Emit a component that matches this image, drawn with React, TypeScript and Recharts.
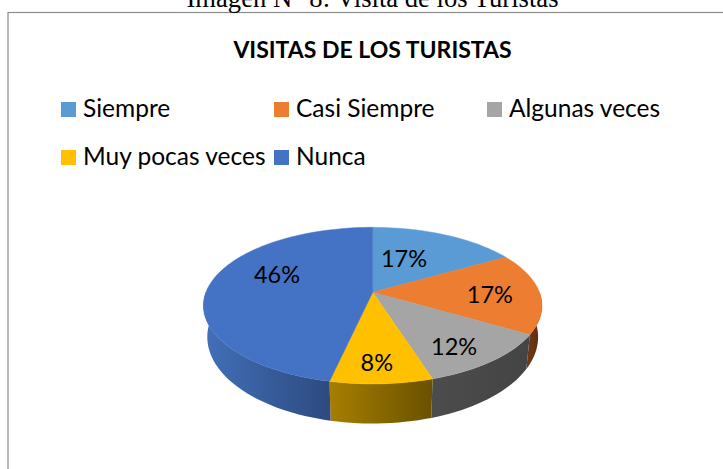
import { PieChart, Pie, Legend } from "recharts";

const categories = ["Siempre", "Casi Siempre", "Algunas veces", "Muy pocas veces", "Nunca"];
// printed labels, and the slice shares
const percentages = [17, 17, 12, 8, 46];
const shares = [16.6, 16.8, 11.6, 8.3, 46.4];
const topColors = ["#5b9bd5", "#ed7d31", "#a5a5a5", "#ffc000", "#4472c4"];

// wall shading, left to right for each slice
const wallColors = [
  ["#3c6a96", "#3c6a96"],
  ["#6e3a14", "#5a2d0e"],
  ["#4c4c4c", "#444444"],
  ["#a67e00", "#6a5100"],
  ["#4270b8", "#2d4a80"],
];

// where Excel parked each data label, relative to the middle of its slice
const labelRadius = [0.53, 0.7, 0.77, 0.79, 0.65];
const labelTurn = [-7.4, 1.5, 4, 1, 16.8];

const pieData = categories.map((name, i) => ({
  name,
  value: shares[i],
  fill: topColors[i],
  wall: `url(#wall${i})`,
}));

const FONT = "Lato, Carlito, sans-serif";

// perspective of the tilted disc: same mapping for top and bottom face, different constants
const TILT = 0.17;
const TOP_Y = 76;
const BOTTOM_X = 163;
const BOTTOM_Y = 84;
const BOTTOM_DROP = 30;

const project = (clockDeg: number, r: number, rx: number, ry: number) => {
  const rad = (clockDeg * Math.PI) / 180;
  const u = r * Math.sin(rad);
  const v = r * Math.cos(rad);
  const w = 1 + TILT * v;
  return { x: (rx * u) / w, y: (-ry * v) / w };
};

const arcAngles = (from: number, to: number) => {
  const out = [];
  for (let a = from; a < to; a += 2) out.push(a);
  out.push(to);
  return out;
};

const TopFace = (props: any) => {
  const { cx, cy, outerRadius, startAngle, endAngle, fill } = props;
  const pts = arcAngles(90 - startAngle, 90 - endAngle).map((a) => {
    const p = project(a, 1, outerRadius, TOP_Y);
    return `${(cx + p.x).toFixed(2)} ${(cy + p.y).toFixed(2)}`;
  });
  return <path d={`M${cx} ${cy}L${pts.join("L")}Z`} fill={fill} stroke={fill} strokeWidth={0.5} />;
};

const WallFace = (props: any) => {
  const { cx, cy, outerRadius, startAngle, endAngle, wall } = props;
  // only the front half of the rim can be seen
  const from = Math.max(90 - startAngle, 90);
  const to = Math.min(90 - endAngle, 270);
  if (to <= from) return null;
  const angles = arcAngles(from, to);
  const upper = angles.map((a) => {
    const p = project(a, 1, outerRadius, TOP_Y);
    return `${(cx + p.x).toFixed(2)} ${(cy + p.y).toFixed(2)}`;
  });
  const lower = angles
    .slice()
    .reverse()
    .map((a) => {
      const p = project(a, 1, BOTTOM_X, BOTTOM_Y);
      return `${(cx + p.x).toFixed(2)} ${(cy + BOTTOM_DROP + p.y).toFixed(2)}`;
    });
  return <path d={`M${upper.join("L")}L${lower.join("L")}Z`} fill={wall} />;
};

const renderLabel = (props: any) => {
  const { cx, cy, outerRadius, midAngle, index } = props;
  const p = project(90 - midAngle + labelTurn[index], labelRadius[index], outerRadius, TOP_Y);
  return (
    <text
      x={cx + p.x}
      y={cy + p.y}
      textAnchor="middle"
      dominantBaseline="central"
      fontFamily={FONT}
      fontSize={23.5}
      fill="#000000"
    >
      {percentages[index]}%
    </text>
  );
};

const renderLegend = () => (
  <div
    style={{
      display: "grid",
      gridTemplateColumns: "213px 213px 213px",
      gridAutoRows: "48px",
      fontFamily: FONT,
      fontSize: 24.5,
      color: "#000000",
    }}
  >
    {categories.map((name, i) => (
      <div key={name} style={{ display: "flex", alignItems: "center", height: 30, whiteSpace: "nowrap" }}>
        <span style={{ width: 15, height: 15, background: topColors[i], marginRight: 7 }} />
        <span style={{ position: "relative", top: -2 }}>{name}</span>
      </div>
    ))}
  </div>
);

export default function App() {
  return (
    <div style={{ position: "absolute", left: 0, top: 0, width: 723, height: 469, overflow: "hidden", background: "#ffffff" }}>
      <PieChart width={723} height={469} margin={{ top: 0, right: 0, bottom: 0, left: 0 }}>
        <defs>
          {wallColors.map((c, i) => (
            <linearGradient key={i} id={`wall${i}`} x1="0" y1="0" x2="1" y2="0">
              <stop offset="0%" stopColor={c[0]} />
              <stop offset="100%" stopColor={c[1]} />
            </linearGradient>
          ))}
        </defs>
        <rect x={8} y={12.5} width={800} height={600} fill="none" stroke="#8c8c8c" strokeWidth={1.2} />
        <text x={372.5} y={7} textAnchor="middle" fontFamily="Liberation Serif" fontSize={26.6} fill="#000000">
          Imagen N° 8: Visita de los Turistas
        </text>
        <text x={372.5} y={58} textAnchor="middle" fontFamily={FONT} fontWeight={700} fontSize={23} fill="#000000">
          VISITAS DE LOS TURISTAS
        </text>
        <Legend
          content={renderLegend}
          layout="horizontal"
          verticalAlign="middle"
          wrapperStyle={{ position: "absolute", left: 61, top: 94, width: 640 }}
        />
        <Pie
          data={pieData}
          dataKey="value"
          nameKey="name"
          cx={372.7}
          cy={292.3}
          outerRadius={166.8}
          startAngle={90}
          endAngle={-270}
          shape={WallFace}
          legendType="none"
          label={false}
          labelLine={false}
          isAnimationActive={false}
        />
        <Pie
          data={pieData}
          dataKey="value"
          nameKey="name"
          cx={372.7}
          cy={292.3}
          outerRadius={166.8}
          startAngle={90}
          endAngle={-270}
          shape={TopFace}
          label={renderLabel}
          labelLine={false}
          isAnimationActive={false}
        />
      </PieChart>
    </div>
  );
}
